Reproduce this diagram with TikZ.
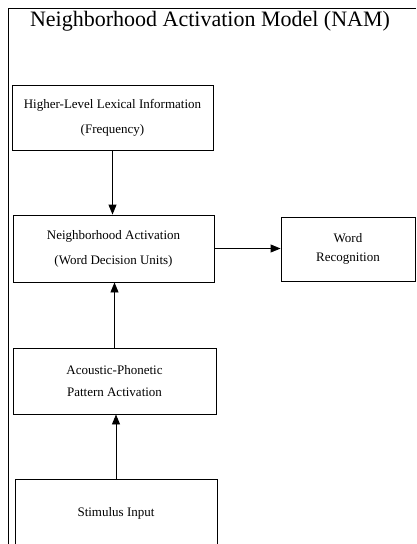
\documentclass[tikz,border=0pt]{standalone}
\usepackage{fontspec}
\setmainfont{Liberation Serif}
\usetikzlibrary{arrows.meta,positioning}

\begin{document}
\begin{tikzpicture}[x=1pt,y=-1pt,font=\fontsize{13}{15.6}\selectfont,
  bx/.style={draw,line width=0.9pt,align=center,minimum width=201pt,minimum height=65pt,inner sep=0pt},
  ar/.style={-{Triangle[length=10pt,width=8pt]},line width=0.9pt}]
\clip (0,0) rectangle (416,544);
\draw[line width=1pt] (8,544) -- (8,8) -- (416,8);
\node[font=\fontsize{22}{26}\selectfont] (title) at (210,21) {Neighborhood Activation Model (NAM)};
\node[bx] (hl) at (112.5,118) {Higher-Level Lexical Information\\[9.5pt](Frequency)};
\node[bx,minimum height=67pt] (na) at (113.5,248.5) {Neighborhood Activation\\[9.5pt](Word Decision Units)};
\node[bx,minimum width=134pt,minimum height=64pt] (wr) at (348,249) {Word\\[3.5pt]Recognition};
\node[bx,minimum width=203pt,minimum height=66pt] (ap) at (114.5,381) {Acoustic-Phonetic\\[5.5pt]Pattern Activation};
\node[bx,minimum width=202pt,minimum height=68pt] (si) at (116,513) {Stimulus Input};
\draw[ar] (hl.south) -- (hl.south |- na.north);
\draw[ar] (na.east) -- (na.east -| wr.west);
\draw[ar] (ap.north) -- (ap.north |- na.south);
\draw[ar] (si.north) -- (si.north |- ap.south);
\end{tikzpicture}
\end{document}
